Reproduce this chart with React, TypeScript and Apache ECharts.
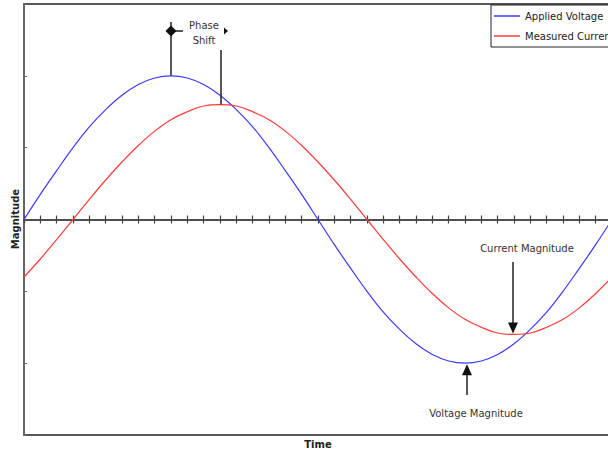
import React, { useEffect, useRef } from "react";
import * as echarts from "echarts";

const angles = [0, 10, 20, 30, 40, 50, 60, 70, 80, 90, 100, 110, 120, 130, 140, 150, 160, 170, 180, 190, 200, 210, 220, 230, 240, 250, 260, 270, 280, 290, 300, 310, 320, 330, 340, 350, 360];
const appliedVoltage = [0, 0.35, 0.68, 1.0, 1.29, 1.53, 1.73, 1.88, 1.97, 2.0, 1.97, 1.88, 1.73, 1.53, 1.29, 1.0, 0.68, 0.35, 0, -0.35, -0.68, -1.0, -1.29, -1.53, -1.73, -1.88, -1.97, -2.0, -1.97, -1.88, -1.73, -1.53, -1.29, -1.0, -0.68, -0.35, 0];
const measuredCurrent = [-0.8, -0.55, -0.28, 0, 0.28, 0.55, 0.8, 1.03, 1.23, 1.39, 1.5, 1.58, 1.6, 1.58, 1.5, 1.39, 1.23, 1.03, 0.8, 0.55, 0.28, 0, -0.28, -0.55, -0.8, -1.03, -1.23, -1.39, -1.5, -1.58, -1.6, -1.58, -1.5, -1.39, -1.23, -1.03, -0.8];
const seriesNames = ["Applied Voltage", "Measured Current"];
const seriesColors = ["#3a3aff", "#ff3a3a"];

const FONT = "DejaVu Sans";

export default function App() {
  const ref = useRef<HTMLDivElement>(null);
  useEffect(() => {
    if (!ref.current) return;
    const chart = echarts.init(ref.current, null, { renderer: "svg" });
    const tickStyle = { color: "#444", width: 1.2 };
    chart.setOption({
      animation: false,
      backgroundColor: "#fff",
      grid: { left: 24, top: 4, right: 0, bottom: 19, show: true, borderColor: "#222", borderWidth: 1.5 },
      legend: {
        left: 491, top: 5, orient: "vertical",
        backgroundColor: "#fff", borderColor: "#222", borderWidth: 1,
        padding: [5, 40, 5, 3], itemGap: 8, itemWidth: 26, itemHeight: 1.5, icon: "rect",
        textStyle: { fontSize: 10, color: "#222", fontFamily: FONT, lineHeight: 12 },
        data: seriesNames,
      },
      xAxis: [
        {
          type: "value", min: 0, max: 360, interval: 10,
          axisLine: { onZero: true, lineStyle: { color: "#444", width: 1.5 } },
          axisTick: { show: true, inside: false, length: 4, lineStyle: tickStyle },
          axisLabel: { show: false }, splitLine: { show: false },
        },
        {
          type: "value", min: 0, max: 360, interval: 10, position: "bottom",
          axisLine: { onZero: true, onZeroAxisIndex: 0, lineStyle: { color: "#444", width: 1.5 } },
          axisTick: { show: true, inside: true, length: 4, lineStyle: tickStyle },
          axisLabel: { show: false }, splitLine: { show: false },
        },
      ],
      yAxis: {
        type: "value", min: -3, max: 3, interval: 1,
        axisLine: { show: true, onZero: false, lineStyle: { color: "#666", width: 2 } },
        axisTick: { show: true, inside: true, length: 3, lineStyle: { color: "#666", width: 1 } },
        axisLabel: { show: false }, splitLine: { show: false },
      },
      series: [appliedVoltage, measuredCurrent].map((vals, i) => ({
        name: seriesNames[i], type: "line", smooth: 0.4, showSymbol: false,
        xAxisIndex: 0,
        data: angles.map((a, k) => [a, vals[k]]),
        lineStyle: { color: seriesColors[i], width: 1.2 },
        itemStyle: { color: seriesColors[i] },
      })),
    });

    const p = (x: number, y: number) => chart.convertToPixel({ gridIndex: 0 }, [x, y]) as number[];
    const line = (x1: number, y1: number, x2: number, y2: number) => ({
      type: "line", shape: { x1, y1, x2, y2 }, style: { stroke: "#222", lineWidth: 1.5 }, z: 10,
    });
    const txt = (text: string, x: number, y: number, extra: any = {}) => ({
      type: "text", x, y, z: 10,
      style: { text, fill: "#333", font: `10px '${FONT}'`, align: "center", verticalAlign: "middle", ...extra },
    });

    const vPeak = p(90, 2);
    const cPeak = p(120, 1.6);
    const cTrough = p(300, -1.6);
    const vTrough = p(270, -2);
    const dY = 31;
    const graphic: any[] = [
      line(vPeak[0], vPeak[1], vPeak[0], 22),
      { type: "polygon", shape: { points: [[vPeak[0], dY - 5.5], [vPeak[0] + 5.5, dY], [vPeak[0], dY + 5.5], [vPeak[0] - 5.5, dY]] }, style: { fill: "#111" }, z: 11 },
      line(vPeak[0], dY, vPeak[0] + 12, dY),
      { type: "text", x: 204, y: 33, z: 10, style: { text: "Phase\nShift", fill: "#333", font: `10px '${FONT}'`, align: "center", verticalAlign: "middle", lineHeight: 15 } },
      { type: "polygon", shape: { points: [[224, dY - 3.5], [228, dY], [224, dY + 3.5]] }, style: { fill: "#111" }, z: 11 },
      line(cPeak[0] + 1, 50, cPeak[0] + 1, cPeak[1]),
      // current magnitude arrow
      line(cTrough[0] - 1, 262, cTrough[0] - 1, cTrough[1] - 10),
      { type: "polygon", shape: { points: [[cTrough[0] - 6, cTrough[1] - 12], [cTrough[0] + 4, cTrough[1] - 12], [cTrough[0] - 1, cTrough[1] - 1]] }, style: { fill: "#111" }, z: 11 },
      txt("Current Magnitude", 527, 248),
      // voltage magnitude arrow
      line(vTrough[0] + 2, 395, vTrough[0] + 2, vTrough[1] + 10),
      { type: "polygon", shape: { points: [[vTrough[0] - 3, vTrough[1] + 12], [vTrough[0] + 7, vTrough[1] + 12], [vTrough[0] + 2, vTrough[1] + 1]] }, style: { fill: "#111" }, z: 11 },
      txt("Voltage Magnitude", 476, 413),
      // axis names
      txt("Time", 318, 444, { font: `bold 10px '${FONT}'`, fill: "#222" }),
      { type: "text", x: 15, y: 219, rotation: Math.PI / 2, z: 10, style: { text: "Magnitude", fill: "#222", font: `bold 10px '${FONT}'`, align: "center", verticalAlign: "middle" } },
    ];
    chart.setOption({ graphic });
    return () => chart.dispose();
  }, []);
  return (
    <div style={{ position: "absolute", left: 0, top: 0, width: 608, height: 454, overflow: "hidden" }}>
      <div ref={ref} style={{ width: 612, height: 454 }} />
    </div>
  );
}
